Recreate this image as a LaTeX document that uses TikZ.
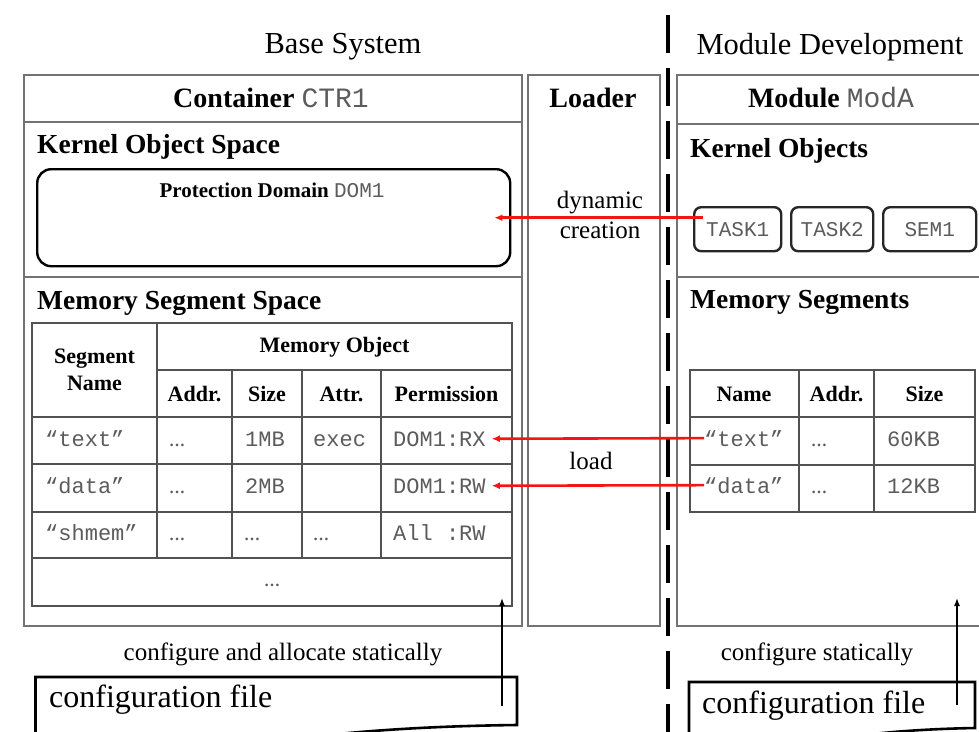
\documentclass[tikz,border=0pt]{standalone}
\usepackage{fontspec}
\setmainfont{Liberation Serif}
\setmonofont{Liberation Mono}
\usetikzlibrary{arrows.meta}
\definecolor{monogray}{gray}{0.36}
\definecolor{arrred}{RGB}{245,20,20}
\newcommand\myfs[1]{\fontsize{#1}{#1}\selectfont}
\begin{document}
\begin{tikzpicture}[x=1pt,y=-1pt,
  frame/.style={draw=black!55, line width=2.2pt},
  tline/.style={draw=black!68, line width=1.8pt},
  pdbox/.style={draw=black, line width=2.4pt, rounded corners=14pt},
  objbox/.style={draw=black!85, line width=2.4pt, rounded corners=7pt, anchor=north west, minimum height=44pt, inner sep=0pt, font=\ttfamily\myfs{21}\color{monogray}},
  title/.style={font=\myfs{30.5}, inner sep=0pt},
  hdr/.style={font=\bfseries\myfs{28}, inner sep=0pt},
  sub/.style={font=\bfseries\myfs{27.5}, inner sep=0pt, anchor=west},
  th/.style={font=\bfseries\myfs{22}, inner sep=0pt, align=center},
  td/.style={font=\ttfamily\myfs{22}\color{monogray}, inner sep=0pt, anchor=base west},
  dots/.style={font=\bfseries\myfs{16}\color{monogray}, inner sep=0pt, anchor=base west},
  lbl/.style={font=\myfs{25}, inner sep=0pt},
  cfg/.style={font=\myfs{32}, inner sep=0pt, anchor=west},
  redarr/.style={draw=arrred, line width=2.6pt, -{Latex[length=8pt,width=7pt]}},
  blkarr/.style={draw=black, line width=1.3pt, -{Latex[length=8pt,width=6pt]}},
  docbox/.style={draw=black, line width=2.6pt}
]
\clip (0,0) rectangle (979,731);
\fill[white] (0,0) rectangle (979,731);

% titles
\node[title] (tbase) at (343,47) {Base System};
\node[title] (tmod) at (830,47) {Module Development};

% divider
\coordinate (divtop) at (668,15);
\coordinate (divbot) at (668,760);
\draw[line width=4pt, dash pattern=on 38pt off 15pt] (divtop) -- (divbot);

% ---------------- Container ----------------
\node[frame, anchor=north west, minimum width=498pt, minimum height=551pt, inner sep=0pt] (ctr) at (23,74) {};
\draw[frame] (ctr.west |- 0,122) -- (ctr.east |- 0,122);
\draw[frame] (ctr.west |- 0,277) -- (ctr.east |- 0,277);
\node[hdr] (ctrh) at (271,98) {Container \textmd{\ttfamily\color{monogray}CTR1}};
\node[sub] (kos) at (37,147) {Kernel Object Space};
\node[pdbox, anchor=north west, minimum width=473pt, minimum height=97pt, inner sep=0pt] (pd) at (36,168) {};
\node[font=\bfseries\myfs{21}, inner sep=0pt] (pdt) at (272,190) {Protection Domain \textmd{\ttfamily\color{monogray}DOM1}};
\node[sub] (mss) at (37,303) {Memory Segment Space};

% table (left)
\draw[tline] (32,323) rectangle (512,606);
\draw[tline] (157,370) -- (512,370);
\draw[tline] (32,417) -- (512,417);
\draw[tline] (32,464) -- (512,464);
\draw[tline] (32,512) -- (512,512);
\draw[tline] (32,558) -- (512,558);
\draw[tline] (157,323) -- (157,558);
\draw[tline] (232,370) -- (232,558);
\draw[tline] (302,370) -- (302,558);
\draw[tline] (381,370) -- (381,558);

\node[th, text width=120pt] (segn) at (94.5,370) {Segment\\[5pt]Name};
\node[th] (memo) at (334.5,347) {Memory Object};
\node[th] (haddr) at (194.5,394) {Addr.};
\node[th] (hsize) at (267,394) {Size};
\node[th] (hattr) at (341.5,394) {Attr.};
\node[th] (hperm) at (446.5,394) {Permission};

\node[td] (ltext) at (45,446) {“text”};
\node[dots] (ld1) at (169,446) {\ldots};
\node[td] (l1mb) at (245,446) {1MB};
\node[td] (lexec) at (313,446) {exec};
\node[td] (rx) at (393,446) {DOM1:RX};

\node[td] (ldata) at (45,493) {“data”};
\node[dots] (ld2) at (169,493) {\ldots};
\node[td] (l2mb) at (245,493) {2MB};
\node[td] (rw) at (393,493) {DOM1:RW};

\node[td] (lshm) at (45,540) {“shmem”};
\node[dots] (ld3) at (169,540) {\ldots};
\node[dots] (ld4) at (244,540) {\ldots};
\node[dots] (ld5) at (313,540) {\ldots};
\node[td] (allrw) at (393,540) {All :RW};

\node[dots, anchor=base] (ld6) at (272,586) {\ldots};

% left config
\node[lbl] (cas) at (283,654) {configure and allocate statically};
\draw[docbox] (35.5,760) -- (35.5,677) -- (517,677) -- (517,725)
  .. controls (430,726) and (340,731) .. (250,745);
\node[cfg] (cf1) at (49,700) {configuration file};
\coordinate (cfa1) at (502,706);
\coordinate (tbl1) at (502,598);
\draw[blkarr] (cfa1) -- (tbl1);

% ---------------- Loader ----------------
\node[frame, anchor=north west, minimum width=132pt, minimum height=551pt, inner sep=0pt] (ldr) at (527,74) {};
\node[hdr] (ldrh) at (593,98) {Loader};
\node[lbl, align=center] (dyn) at (600,215) {dynamic\\[5pt]creation};
\node[lbl] (load) at (591,461) {load};

% ---------------- Module ----------------
\node[frame, anchor=north west, minimum width=330pt, minimum height=551pt, inner sep=0pt] (mod) at (676,74) {};
\draw[frame] (mod.west |- 0,124) -- (mod.east |- 0,124);
\draw[frame] (mod.west |- 0,277) -- (mod.east |- 0,277);
\node[hdr] (modh) at (831,98) {Module \textmd{\ttfamily\color{monogray}ModA}};
\node[sub] (ko) at (690,151) {Kernel Objects};
\node[objbox, minimum width=87pt] (task1) at (693,206) {TASK1};
\node[objbox, minimum width=82pt] (task2) at (790,206) {TASK2};
\node[objbox, minimum width=93pt] (sem1) at (882,206) {SEM1};
\node[sub] (ms) at (690,302) {Memory Segments};

% table (right)
\draw[tline] (690,370) rectangle (975,512);
\draw[tline] (690,417) -- (975,417);
\draw[tline] (690,465) -- (975,465);
\draw[tline] (799,370) -- (799,512);
\draw[tline] (874,370) -- (874,512);
\node[th] (rname) at (744,394) {Name};
\node[th] (raddr) at (836.5,394) {Addr.};
\node[th] (rsize) at (924.5,394) {Size};
\node[td] (rtext) at (704,446) {“text”};
\node[dots] (rd1) at (811,446) {\ldots};
\node[td] (r60) at (887,446) {60KB};
\node[td] (rdata) at (704,493) {“data”};
\node[dots] (rd2) at (811,493) {\ldots};
\node[td] (r12) at (887,493) {12KB};

% right config
\node[lbl] (cs) at (817,654) {configure statically};
\draw[docbox] (689,760) -- (689,682) -- (975,682) -- (975,728)
  .. controls (920,729) and (860,733) .. (800,745);
\node[cfg] (cf2) at (702,706) {configuration file};
\coordinate (cfa2) at (957,705);
\coordinate (mod2) at (957,598);
\draw[blkarr] (cfa2) -- (mod2);

% red arrows
\draw[redarr] ([xshift=10pt]task1.west |- pd.east) -- ([xshift=-17pt]pd.east);
\draw[redarr] (rtext.west) -- ([xshift=6pt]rx.east);
\draw[redarr] (rdata.west) -- ([xshift=6pt]rw.east);
\end{tikzpicture}
\end{document}
